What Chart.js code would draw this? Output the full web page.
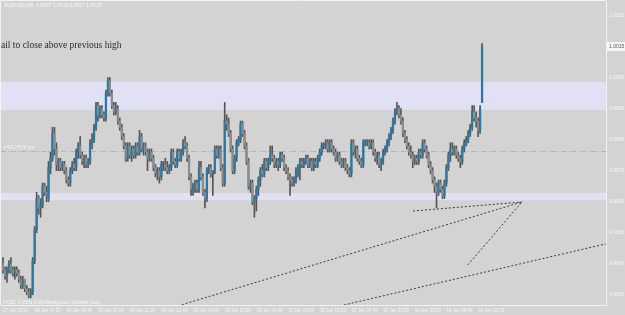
<!DOCTYPE html>
<html>
<head>
<meta charset="utf-8">
<script src="https://cdn.jsdelivr.net/npm/chart.js@4.4.0/dist/chart.umd.min.js"></script>
<style>
  html, body { margin: 0; padding: 0; background: #d3d3d3; overflow: hidden; }
  #chart { display: block; }
</style>
</head>
<body>
<canvas id="chart" width="625" height="315"></canvas>
<script>
// AUDUSD M5 bars (4 digit prices)
const opens = [
  0.9945,0.9943,0.9941,0.9943,0.9945,0.9943,0.9942,0.9943,0.9942,0.9940,
  0.9938,0.9940,0.9937,0.9936,0.9935,0.9936,0.9946,0.9956,0.9966,0.9963,
  0.9964,0.9970,0.9968,0.9966,0.9976,0.9979,0.9987,0.9982,0.9977,0.9978,
  0.9976,0.9977,0.9975,0.9972,0.9971,0.9975,0.9977,0.9976,0.9981,0.9983,
  0.9980,0.9978,0.9979,0.9977,0.9978,0.9984,0.9985,0.9989,0.9996,0.9993,
  0.9995,0.9993,0.9992,1.0000,1.0004,1.0000,0.9996,0.9994,0.9995,0.9991,
  0.9989,0.9986,0.9983,0.9979,0.9983,0.9980,0.9982,0.9980,0.9983,0.9981,
  0.9986,0.9982,0.9983,0.9981,0.9979,0.9981,0.9979,0.9976,0.9974,0.9975,
  0.9973,0.9977,0.9977,0.9976,0.9975,0.9976,0.9981,0.9978,0.9977,0.9981,
  0.9979,0.9981,0.9984,0.9983,0.9979,0.9973,0.9969,0.9970,0.9971,0.9969,
  0.9976,0.9973,0.9968,0.9966,0.9975,0.9976,0.9974,0.9975,0.9982,0.9980,
  0.9982,0.9976,0.9971,0.9991,0.9990,0.9987,0.9982,0.9975,0.9979,0.9984,
  0.9985,0.9990,0.9987,0.9983,0.9978,0.9970,0.9971,0.9965,0.9966,0.9969,
  0.9972,0.9975,0.9974,0.9978,0.9976,0.9978,0.9980,0.9979,0.9977,0.9978,
  0.9977,0.9980,0.9979,0.9976,0.9975,0.9973,0.9972,0.9971,0.9972,0.9975,
  0.9976,0.9978,0.9977,0.9978,0.9979,0.9977,0.9978,0.9976,0.9978,0.9977,
  0.9979,0.9981,0.9983,0.9983,0.9984,0.9982,0.9984,0.9982,0.9981,0.9979,
  0.9980,0.9978,0.9977,0.9978,0.9976,0.9975,0.9974,0.9984,0.9981,0.9982,
  0.9979,0.9978,0.9977,0.9984,0.9984,0.9984,0.9983,0.9984,0.9981,0.9979,
  0.9980,0.9977,0.9978,0.9981,0.9982,0.9984,0.9986,0.9988,0.9991,0.9994,
  0.9995,0.9993,0.9991,0.9987,0.9985,0.9983,0.9981,0.9980,0.9978,0.9979,
  0.9978,0.9981,0.9980,0.9984,0.9982,0.9980,0.9977,0.9975,0.9972,0.9970,
  0.9968,0.9971,0.9969,0.9967,0.9971,0.9976,0.9980,0.9982,0.9981,0.9982,
  0.9980,0.9979,0.9978,0.9982,0.9984,0.9985,0.9987,0.9989,0.9994,0.9992,
  0.9991,0.9988,0.9997
];
const highs = [
  0.9947,0.9944,0.9944,0.9946,0.9947,0.9944,0.9944,0.9944,0.9943,0.9941,
  0.9941,0.9940,0.9938,0.9937,0.9937,0.9947,0.9957,0.9968,0.9967,0.9966,
  0.9971,0.9971,0.9970,0.9978,0.9981,0.9989,0.9989,0.9984,0.9979,0.9979,
  0.9978,0.9978,0.9976,0.9973,0.9976,0.9978,0.9979,0.9982,0.9984,0.9986,
  0.9981,0.9980,0.9980,0.9979,0.9985,0.9987,0.9990,0.9997,0.9997,0.9996,
  0.9996,0.9994,1.0001,1.0005,1.0005,1.0001,0.9997,0.9997,0.9996,0.9992,
  0.9990,0.9987,0.9984,0.9984,0.9984,0.9983,0.9983,0.9984,0.9984,0.9988,
  0.9987,0.9984,0.9984,0.9982,0.9982,0.9982,0.9980,0.9977,0.9976,0.9976,
  0.9978,0.9978,0.9979,0.9978,0.9977,0.9982,0.9982,0.9979,0.9982,0.9982,
  0.9982,0.9985,0.9986,0.9984,0.9980,0.9974,0.9971,0.9972,0.9972,0.9978,
  0.9978,0.9974,0.9969,0.9976,0.9977,0.9977,0.9975,0.9983,0.9983,0.9983,
  0.9983,0.9977,0.9997,0.9993,0.9992,0.9988,0.9983,0.9980,0.9985,0.9986,
  0.9991,0.9991,0.9988,0.9984,0.9979,0.9972,0.9972,0.9967,0.9970,0.9973,
  0.9976,0.9977,0.9979,0.9979,0.9979,0.9983,0.9983,0.9980,0.9979,0.9979,
  0.9981,0.9981,0.9980,0.9977,0.9976,0.9974,0.9973,0.9973,0.9976,0.9977,
  0.9979,0.9979,0.9979,0.9980,0.9980,0.9979,0.9979,0.9979,0.9979,0.9980,
  0.9982,0.9984,0.9984,0.9985,0.9985,0.9985,0.9985,0.9983,0.9982,0.9981,
  0.9981,0.9979,0.9979,0.9979,0.9977,0.9976,0.9985,0.9985,0.9983,0.9983,
  0.9980,0.9979,0.9985,0.9985,0.9985,0.9985,0.9985,0.9985,0.9982,0.9981,
  0.9981,0.9979,0.9982,0.9983,0.9985,0.9987,0.9989,0.9992,0.9995,0.9997,
  0.9996,0.9995,0.9992,0.9988,0.9986,0.9984,0.9983,0.9981,0.9980,0.9980,
  0.9982,0.9982,0.9985,0.9985,0.9983,0.9981,0.9978,0.9976,0.9973,0.9971,
  0.9972,0.9972,0.9970,0.9972,0.9977,0.9981,0.9984,0.9984,0.9983,0.9983,
  0.9981,0.9980,0.9983,0.9985,0.9986,0.9988,0.9990,0.9996,0.9996,0.9994,
  0.9992,0.9996,1.0016
];
const lows = [
  0.9942,0.9940,0.9939,0.9942,0.9942,0.9941,0.9940,0.9941,0.9939,0.9937,
  0.9937,0.9936,0.9935,0.9934,0.9934,0.9935,0.9945,0.9955,0.9961,0.9960,
  0.9963,0.9967,0.9965,0.9965,0.9974,0.9978,0.9980,0.9975,0.9975,0.9975,
  0.9975,0.9974,0.9971,0.9970,0.9970,0.9974,0.9975,0.9975,0.9979,0.9979,
  0.9977,0.9976,0.9976,0.9976,0.9977,0.9982,0.9984,0.9988,0.9991,0.9992,
  0.9992,0.9991,0.9991,0.9999,0.9999,0.9995,0.9993,0.9993,0.9990,0.9988,
  0.9985,0.9982,0.9978,0.9978,0.9979,0.9978,0.9979,0.9979,0.9980,0.9980,
  0.9981,0.9980,0.9980,0.9975,0.9978,0.9978,0.9975,0.9973,0.9972,0.9971,
  0.9972,0.9975,0.9975,0.9974,0.9974,0.9975,0.9977,0.9976,0.9976,0.9978,
  0.9978,0.9980,0.9982,0.9978,0.9972,0.9967,0.9967,0.9968,0.9968,0.9968,
  0.9972,0.9967,0.9963,0.9965,0.9974,0.9973,0.9967,0.9974,0.9979,0.9979,
  0.9975,0.9970,0.9970,0.9988,0.9986,0.9981,0.9974,0.9974,0.9978,0.9983,
  0.9984,0.9986,0.9982,0.9977,0.9969,0.9968,0.9964,0.9960,0.9962,0.9967,
  0.9970,0.9973,0.9973,0.9975,0.9975,0.9977,0.9978,0.9976,0.9976,0.9975,
  0.9976,0.9978,0.9975,0.9974,0.9972,0.9967,0.9970,0.9970,0.9971,0.9973,
  0.9972,0.9976,0.9976,0.9977,0.9976,0.9976,0.9975,0.9975,0.9976,0.9976,
  0.9978,0.9980,0.9982,0.9982,0.9981,0.9981,0.9981,0.9980,0.9978,0.9978,
  0.9977,0.9976,0.9976,0.9975,0.9974,0.9973,0.9973,0.9980,0.9979,0.9978,
  0.9977,0.9976,0.9976,0.9983,0.9983,0.9982,0.9982,0.9980,0.9978,0.9977,
  0.9976,0.9975,0.9977,0.9980,0.9981,0.9983,0.9985,0.9987,0.9990,0.9993,
  0.9992,0.9990,0.9986,0.9984,0.9982,0.9980,0.9979,0.9976,0.9977,0.9977,
  0.9977,0.9979,0.9979,0.9981,0.9979,0.9976,0.9974,0.9971,0.9968,0.9963,
  0.9967,0.9968,0.9966,0.9966,0.9970,0.9975,0.9978,0.9980,0.9980,0.9979,
  0.9978,0.9976,0.9977,0.9981,0.9983,0.9984,0.9986,0.9988,0.9991,0.9989,
  0.9986,0.9987,0.9997
];
const closes = [
  0.9943,0.9941,0.9943,0.9945,0.9943,0.9942,0.9943,0.9942,0.9940,0.9938,
  0.9940,0.9937,0.9936,0.9935,0.9936,0.9946,0.9956,0.9966,0.9963,0.9964,
  0.9970,0.9968,0.9967,0.9976,0.9979,0.9987,0.9982,0.9977,0.9978,0.9976,
  0.9977,0.9975,0.9972,0.9971,0.9975,0.9977,0.9976,0.9981,0.9983,0.9980,
  0.9978,0.9979,0.9977,0.9978,0.9984,0.9985,0.9989,0.9996,0.9993,0.9995,
  0.9993,0.9992,1.0000,1.0004,1.0000,0.9996,0.9994,0.9995,0.9991,0.9989,
  0.9986,0.9983,0.9979,0.9983,0.9980,0.9982,0.9980,0.9983,0.9981,0.9986,
  0.9982,0.9983,0.9981,0.9979,0.9981,0.9979,0.9976,0.9974,0.9975,0.9973,
  0.9977,0.9977,0.9976,0.9975,0.9976,0.9981,0.9978,0.9977,0.9981,0.9979,
  0.9981,0.9984,0.9983,0.9979,0.9973,0.9969,0.9970,0.9971,0.9969,0.9976,
  0.9973,0.9968,0.9966,0.9975,0.9976,0.9974,0.9975,0.9982,0.9980,0.9982,
  0.9976,0.9971,0.9991,0.9990,0.9987,0.9982,0.9975,0.9979,0.9984,0.9985,
  0.9990,0.9987,0.9983,0.9978,0.9970,0.9971,0.9965,0.9966,0.9969,0.9972,
  0.9975,0.9974,0.9978,0.9976,0.9978,0.9980,0.9979,0.9977,0.9978,0.9977,
  0.9980,0.9979,0.9976,0.9975,0.9973,0.9972,0.9971,0.9972,0.9975,0.9976,
  0.9978,0.9977,0.9978,0.9979,0.9977,0.9978,0.9976,0.9978,0.9977,0.9979,
  0.9981,0.9983,0.9983,0.9984,0.9982,0.9984,0.9982,0.9981,0.9979,0.9980,
  0.9978,0.9977,0.9978,0.9976,0.9975,0.9974,0.9984,0.9981,0.9982,0.9979,
  0.9978,0.9977,0.9984,0.9984,0.9984,0.9983,0.9984,0.9981,0.9979,0.9980,
  0.9977,0.9978,0.9981,0.9982,0.9984,0.9986,0.9988,0.9991,0.9994,0.9995,
  0.9993,0.9991,0.9987,0.9985,0.9983,0.9981,0.9980,0.9978,0.9979,0.9978,
  0.9981,0.9980,0.9984,0.9982,0.9980,0.9977,0.9975,0.9972,0.9970,0.9968,
  0.9971,0.9969,0.9967,0.9971,0.9976,0.9980,0.9982,0.9981,0.9982,0.9980,
  0.9979,0.9978,0.9982,0.9984,0.9985,0.9987,0.9989,0.9994,0.9992,0.9991,
  0.9988,0.9995,1.0015
];

// one label every 16 bars (80 minutes)
const timeLabels = [
  "17 Jan 2011", "18 Jan 07:25", "18 Jan 08:45", "18 Jan 10:05", "18 Jan 11:25",
  "18 Jan 12:45", "18 Jan 14:05", "18 Jan 15:25", "18 Jan 16:45", "18 Jan 18:05",
  "18 Jan 19:25", "18 Jan 20:45", "18 Jan 22:05", "18 Jan 23:25", "19 Jan 00:45",
  "19 Jan 02:05"
];
const priceTicks = [0.9935, 0.9945, 0.9955, 0.9965, 0.9975, 0.9985, 0.9995, 1.0005, 1.0015, 1.0025];

// zones, order level and hand drawn trend lines (bar index, price)
const resistanceZone = [0.99946, 1.00036];
const supportZone = [0.99655, 0.99678];
const buyLevel = 0.99815;
const trendLines = [
  [[207.1, 0.99620], [262.1, 0.99649]],
  [[88.4, 0.99314], [262.1, 0.99649]],
  [[234.8, 0.99446], [262.1, 0.99649]],
  [[170.2, 0.99314], [304.5, 0.99514]]
];

const BG = "#d3d3d3";
const ZONE = "#e1e1f6";
const BULL = "#2a78a3";
const BEAR = "#8c8c8c";
const WICK = "#555555";
const AXIS_TEXT = "#f6f6f6";
const last = closes.length - 1;

const overlay = {
  id: "overlay",
  beforeDraw(chart) {
    const ctx = chart.ctx;
    ctx.save();
    ctx.fillStyle = BG;
    ctx.fillRect(0, 0, chart.width, chart.height);
    ctx.restore();
  },
  beforeDatasetsDraw(chart) {
    const { ctx, chartArea: a, scales: { y } } = chart;
    ctx.save();
    ctx.beginPath();
    ctx.rect(a.left, a.top, a.right - a.left, a.bottom - a.top);
    ctx.clip();
    ctx.fillStyle = ZONE;
    [resistanceZone, supportZone].forEach(z => {
      const y1 = y.getPixelForValue(z[1]);
      const y0 = y.getPixelForValue(z[0]);
      ctx.fillRect(a.left, y1, a.right - a.left, y0 - y1);
    });
    const by = Math.round(y.getPixelForValue(buyLevel)) + 0.5;
    ctx.strokeStyle = "#93cc93";
    ctx.lineWidth = 1;
    ctx.setLineDash([5, 2, 1, 2]);
    ctx.beginPath();
    ctx.moveTo(a.left, by);
    ctx.lineTo(a.right, by);
    ctx.stroke();
    ctx.setLineDash([]);
    ctx.fillStyle = "#eef3ee";
    ctx.font = "4.5px 'Liberation Sans'";
    ctx.textBaseline = "bottom";
    ctx.fillText("#40127578 buy", 4, by - 1);
    ctx.restore();
  },
  afterDraw(chart) {
    const { ctx, chartArea: a, scales: { y } } = chart;
    ctx.save();
    // top and left frame
    ctx.strokeStyle = "#f2f2f2";
    ctx.lineWidth = 1;
    ctx.beginPath();
    ctx.moveTo(a.left - 0.5, a.bottom);
    ctx.lineTo(a.left - 0.5, a.top - 0.5);
    ctx.lineTo(a.right, a.top - 0.5);
    ctx.stroke();

    ctx.textBaseline = "middle";
    ctx.fillStyle = AXIS_TEXT;
    ctx.font = "5px 'Liberation Sans'";
    ctx.fillText("AUDUSD,M5  " + [opens[last], highs[last], lows[last], closes[last]].map(v => v.toFixed(4)).join(" "), 4, 5.5);
    ctx.font = "4.5px 'Liberation Sans'";
    ctx.fillText("FXDD, \u00a9 2001-2009 MetaQuotes Software Corp.", 3, 302.5);

    ctx.fillStyle = "#2b2b2b";
    ctx.font = "9.5px 'Liberation Serif'";
    ctx.fillText("ail to close above previous high", 1, 45);

    // current price tag on the price axis
    const py = y.getPixelForValue(closes[last]);
    ctx.fillStyle = "#f7f7f7";
    ctx.fillRect(a.right + 1, py - 4.5, 18, 9);
    ctx.fillStyle = "#555";
    ctx.font = "5px 'Liberation Sans'";
    ctx.fillText(closes[last].toFixed(4), a.right + 3, py + 0.5);
    ctx.restore();
  }
};

new Chart(document.getElementById("chart"), {
  type: "bar",
  data: {
    datasets: [
      {
        label: "wicks",
        data: opens.map((o, i) => ({ x: i, y: [lows[i], highs[i]] })),
        backgroundColor: WICK,
        barThickness: 1,
        grouped: false,
        order: 3
      },
      {
        label: "bodies",
        data: opens.map((o, i) => ({ x: i, y: [o, closes[i]] })),
        backgroundColor: opens.map((o, i) => closes[i] >= o ? BULL : BEAR),
        barThickness: 1.6,
        minBarLength: 1,
        grouped: false,
        order: 2
      },
      ...trendLines.map((pts, k) => ({
        type: "line",
        label: "trend " + (k + 1),
        data: pts.map(p => ({ x: p[0], y: p[1] })),
        borderColor: "#3a3a3a",
        borderWidth: 1,
        borderDash: [2, 2],
        pointRadius: 0,
        fill: false,
        order: 1
      }))
    ]
  },
  options: {
    responsive: false,
    animation: false,
    devicePixelRatio: 1,
    layout: { padding: { left: 1, top: 1, right: 0, bottom: 0 } },
    plugins: { legend: { display: false }, tooltip: { enabled: false } },
    scales: {
      x: {
        type: "linear",
        min: -1,
        max: 304.6,
        offset: false,
        grid: { display: false, drawTicks: false },
        border: { display: true, color: "#f2f2f2" },
        afterBuildTicks: s => { s.ticks = timeLabels.map((t, k) => ({ value: k * 16 })); },
        afterFit: s => { s.height = 10; s.paddingLeft = 0; s.paddingRight = 0; },
        ticks: {
          autoSkip: false,
          maxRotation: 0,
          align: "start",
          padding: 3,
          color: AXIS_TEXT,
          font: { family: "Liberation Sans", size: 4.5 },
          callback: (v, i) => timeLabels[i]
        }
      },
      y: {
        position: "right",
        min: 0.99317,
        max: 1.00297,
        grid: { display: false, drawTicks: false },
        border: { display: true, color: "#f2f2f2" },
        afterBuildTicks: s => { s.ticks = priceTicks.map(v => ({ value: v })); },
        afterFit: s => { s.width = 19; s.paddingTop = 0; s.paddingBottom = 0; },
        ticks: {
          padding: 3,
          color: AXIS_TEXT,
          font: { family: "Liberation Sans", size: 5 },
          callback: v => v.toFixed(4)
        }
      }
    }
  },
  plugins: [overlay]
});
</script>
</body>
</html>
